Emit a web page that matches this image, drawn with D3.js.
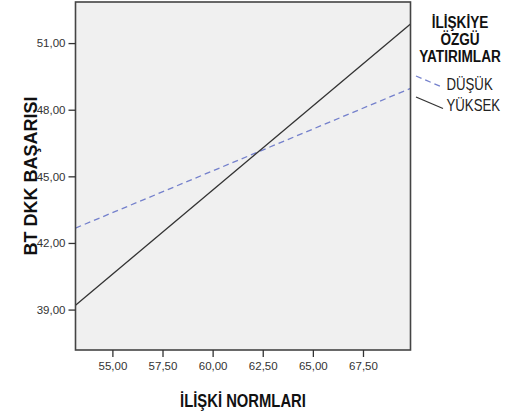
<!DOCTYPE html>
<html>
<head>
<meta charset="utf-8">
<script src="https://cdn.jsdelivr.net/npm/d3@7"></script>
<style>
  body { margin: 0; background: #fff; }
  text { font-family: "Liberation Sans", Arial, sans-serif; }
</style>
</head>
<body>
<div id="chart"></div>
<script>
// Chart data
const normTicks = [55, 57.5, 60, 62.5, 65, 67.5];
const basariTicks = [39, 42, 45, 48, 51];
const normRange = [53.16, 69.87];      // İLİŞKİ NORMLARI, ends of the lines
const groups = ["DÜŞÜK", "YÜKSEK"];
const dusukValues = [42.67, 48.96];    // BT DKK BAŞARISI at both ends
const yuksekValues = [39.19, 51.86];
const legendTitle = ["İLİŞKİYE", "ÖZGÜ", "YATIRIMLAR"];

const W = 509, H = 416;
const plot = { left: 75.5, right: 410.5, top: 2, bottom: 350 };
const squeeze = 0.8;   // the source text is horizontally condensed

const svg = d3.select("#chart")
    .append("svg")
    .attr("width", W)
    .attr("height", H);

const x = d3.scaleLinear()
    .domain(normRange)
    .range([plot.left, plot.right]);

const y = d3.scaleLinear()
    .domain([37.18, 52.85])
    .range([plot.bottom, plot.top]);

const fmt = v => d3.format(".2f")(v).replace(".", ",");

// condensed text helper
function narrowText(parent, px, py) {
    return parent.append("text")
        .attr("transform", `translate(${px},${py}) scale(${squeeze},1)`);
}

// Plot background
svg.append("rect")
    .attr("x", plot.left)
    .attr("y", plot.top)
    .attr("width", plot.right - plot.left)
    .attr("height", plot.bottom - plot.top)
    .attr("fill", "#f0f0f0");

// Lines
const series = [
    { name: groups[0], values: dusukValues, color: "#7480cc", dash: "6,4" },
    { name: groups[1], values: yuksekValues, color: "#333333", dash: null }
];

const line = d3.line()
    .x(d => x(d[0]))
    .y(d => y(d[1]));

svg.selectAll(".series")
    .data(series)
    .enter()
    .append("path")
    .attr("class", "series")
    .attr("d", d => line(normRange.map((n, i) => [n, d.values[i]])))
    .attr("fill", "none")
    .attr("stroke", d => d.color)
    .attr("stroke-width", 1.3)
    .attr("stroke-dasharray", d => d.dash);

// Frame
svg.append("rect")
    .attr("x", plot.left)
    .attr("y", plot.top)
    .attr("width", plot.right - plot.left)
    .attr("height", plot.bottom - plot.top)
    .attr("fill", "none")
    .attr("stroke", "#444")
    .attr("stroke-width", 1.6);

// Axes
const xAxis = svg.append("g")
    .attr("transform", `translate(0,${plot.bottom})`)
    .call(d3.axisBottom(x).tickValues(normTicks).tickFormat(fmt).tickSize(7).tickPadding(5));

const yAxis = svg.append("g")
    .attr("transform", `translate(${plot.left},0)`)
    .call(d3.axisLeft(y).tickValues(basariTicks).tickFormat(fmt).tickSize(7).tickPadding(3));

[xAxis, yAxis].forEach(g => {
    g.select(".domain").remove();
    g.selectAll(".tick line").attr("stroke", "#333").attr("stroke-width", 1.3);
    g.selectAll(".tick text")
        .attr("font-family", "'Liberation Sans', Arial, sans-serif")
        .attr("font-size", "11.5px")
        .attr("fill", "#333");
});

// Axis titles
narrowText(svg, (plot.left + plot.right) / 2, 406.5)
    .attr("text-anchor", "middle")
    .attr("font-size", "18.5px")
    .attr("font-weight", "bold")
    .attr("fill", "#111")
    .text("İLİŞKİ NORMLARI");

svg.append("text")
    .attr("transform", `translate(36.5,176) rotate(-90)`)
    .attr("text-anchor", "middle")
    .attr("font-size", "18px")
    .attr("font-weight", "bold")
    .attr("fill", "#111")
    .text("BT DKK BAŞARISI");

// Legend
const legend = svg.append("g");

legendTitle.forEach((t, i) => {
    narrowText(legend, 460, 28 + i * 17)
        .attr("text-anchor", "middle")
        .attr("font-size", "17px")
        .attr("font-weight", "bold")
        .attr("fill", "#111")
        .text(t);
});

series.forEach((d, i) => {
    const g = legend.append("g")
        .attr("transform", `translate(0,${i * 21})`);

    g.append("line")
        .attr("x1", 416).attr("y1", 76)
        .attr("x2", 443).attr("y2", 87.5)
        .attr("stroke", d.color)
        .attr("stroke-width", 1.3)
        .attr("stroke-dasharray", d.dash);

    narrowText(g, 446.5, 89.5)
        .attr("font-size", "16.5px")
        .attr("fill", "#222")
        .text(d.name);
});
</script>
</body>
</html>
